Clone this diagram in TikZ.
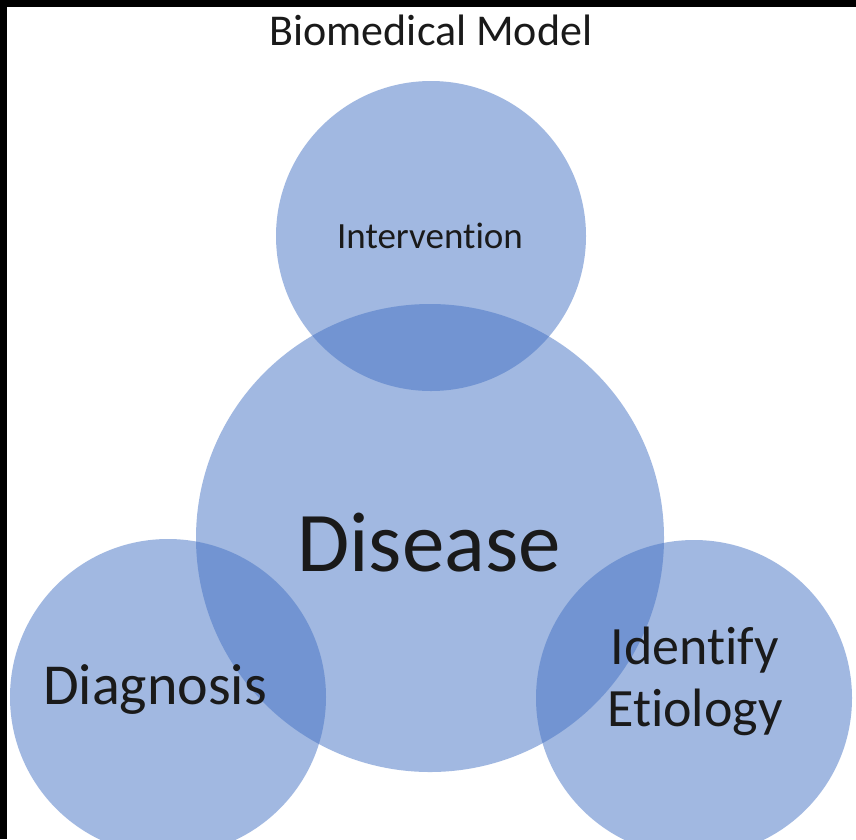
\documentclass[tikz,border=0pt]{standalone}
\usepackage{fontspec}
\setmainfont{Carlito}[Ligatures={NoCommon,NoContextual},Contextuals={NoAlternate}]
\definecolor{circblue}{HTML}{4472C4}
\definecolor{ink}{HTML}{1A1A1A}

\begin{document}
\begin{tikzpicture}[x=1pt,y=-1pt,
    bubble/.style={circle,fill=circblue,fill opacity=0.5,draw=none,inner sep=0pt},
    lbl/.style={text=ink,inner sep=0pt}]
    \useasboundingbox(0,0)rectangle(856,839);
    \fill[white](0,0)rectangle(856,839);

    \begin{scope}
        \clip(0,0)rectangle(856,839);
        \node[bubble,minimum size=310pt](interv)at(431,236){};
        \node[bubble,minimum size=468pt](disease)at(430,538){};
        \node[bubble,minimum size=316pt](diag)at(168,697){};
        \node[bubble,minimum size=316pt](etiol)at(694,698){};
    \end{scope}
    \fill(0,0)rectangle(856,7);
    \fill(0,0)rectangle(7,839);

    \node[lbl,anchor=base,font=\fontsize{44}{52}\selectfont](title)at(431,45){Biomedical Model};
    \node[lbl,anchor=base,font=\fontsize{37}{44}\selectfont](intervtxt)at(430,248){Intervention};
    \node[lbl,anchor=base,font=\fontsize{85}{98}\selectfont](diseasetxt)at(429,571){Disease};
    \node[lbl,anchor=base,font=\fontsize{58}{66}\selectfont](diagtxt)at(155,704){Diagnosis};
    \node[lbl,align=center,font=\fontsize{54}{62}\selectfont](etioltxt)at(695,681){Identify\\Etiology};
\end{tikzpicture}
\end{document}
